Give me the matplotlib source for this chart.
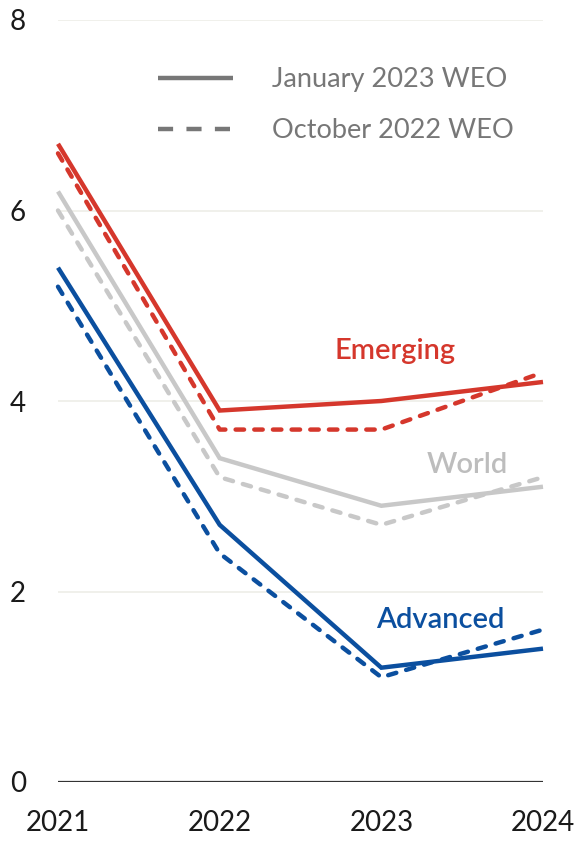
import matplotlib
matplotlib.use("Agg")
import matplotlib.pyplot as plt
from matplotlib.lines import Line2D

years = [2021, 2022, 2023, 2024]
world_jan = [6.2, 3.4, 2.9, 3.1]
world_oct = [6.0, 3.2, 2.7, 3.2]
adv_jan = [5.4, 2.7, 1.2, 1.4]
adv_oct = [5.2, 2.4, 1.1, 1.6]
emde_jan = [6.7, 3.9, 4.0, 4.2]
emde_oct = [6.6, 3.7, 3.7, 4.3]
yticks = [0, 2, 4, 6, 8]
xtick_labels = ["2021", "2022", "2023", "2024"]
legend_labels = ["January 2023 WEO", "October 2022 WEO"]

RED = "#D5372C"
BLUE = "#0B4F9F"
GRAY = "#C8C8C8"
LEG = "#777777"

plt.rcParams['font.family'] = ['Lato', 'DejaVu Sans']

fig = plt.figure(figsize=(5.76, 8.43), dpi=100)
ax = fig.add_axes([58/576, 61/843, 485/576, 762/843])

lw = 3.2
dash = (0, (1.9, 2.3))

def draw(vals_jan, vals_oct, color):
    ax.plot(years, vals_oct, color=color, lw=lw, linestyle=dash,
            dash_capstyle='round', clip_on=False, zorder=3)
    ax.plot(years, vals_jan, color=color, lw=lw, solid_capstyle='butt',
            solid_joinstyle='miter', clip_on=False, zorder=3)

draw(world_jan, world_oct, GRAY)
draw(adv_jan, adv_oct, BLUE)
draw(emde_jan, emde_oct, RED)

ax.set_xlim(2021, 2024)
ax.set_ylim(0, 8)
ax.set_yticks(yticks)
ax.set_yticklabels([str(v) for v in yticks])
ax.set_xticks(years)
ax.set_xticklabels(xtick_labels)
ax.tick_params(axis='both', length=0, labelsize=20, colors='#1a1a1a')
ax.tick_params(axis='y', pad=23)
ax.tick_params(axis='x', pad=20)

for y in yticks[1:]:
    ax.axhline(y, color='#EDEDE8', lw=1.2, zorder=1)
ax.axhline(0, color='#333333', lw=1.6, zorder=2)

for s in ax.spines.values():
    s.set_visible(False)

lab_fs = 21
ax.text(2022.71, 4.53, "Emerging", color=RED, fontsize=lab_fs, fontweight='semibold',
        ha='left', va='center')
ax.text(2023.28, 3.33, "World", color="#BDBDBD", fontsize=lab_fs, fontweight='semibold',
        ha='left', va='center')
ax.text(2022.97, 1.70, "Advanced", color=BLUE, fontsize=lab_fs, fontweight='semibold',
        ha='left', va='center')

handles = [Line2D([], [], color=LEG, lw=3.2, solid_capstyle='butt'),
           Line2D([], [], color=LEG, lw=3.2, linestyle=(0, (3.4, 3.0)),
                  dash_capstyle='butt')]
fs = 19.5
fspx = fs * 100 / 72
leg = ax.legend(handles, legend_labels, loc='upper left',
                bbox_to_anchor=(158/576, (843-67)/843), bbox_transform=fig.transFigure,
                frameon=False, fontsize=fs, handlelength=75/fspx,
                handletextpad=39/fspx, labelspacing=0.96, borderpad=0,
                borderaxespad=0)
for t in leg.get_texts():
    t.set_color(LEG)

fig.savefig("out.png", dpi=100)
